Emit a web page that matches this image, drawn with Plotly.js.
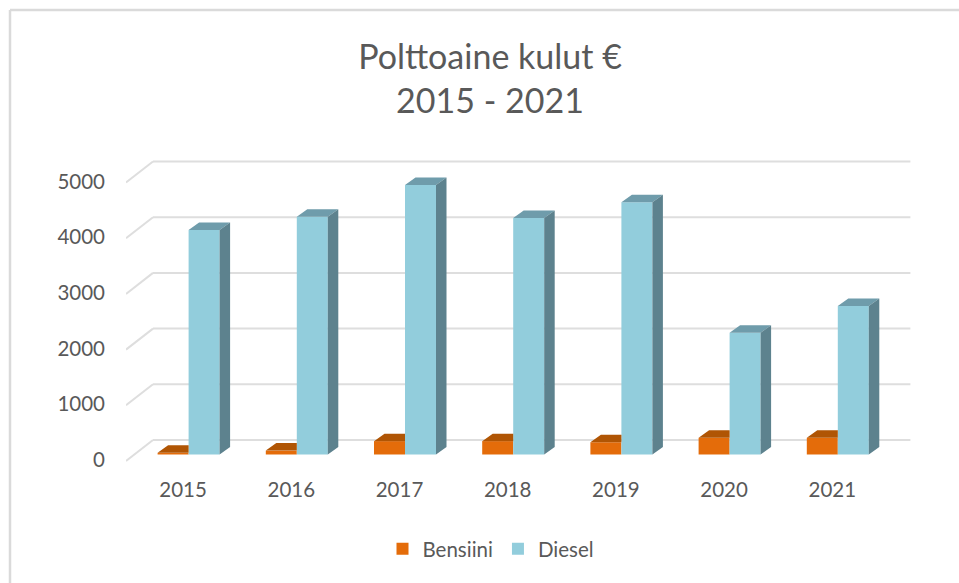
<!DOCTYPE html>
<html>
<head>
<meta charset="utf-8">
<script src="https://cdn.plot.ly/plotly-3.0.1.min.js"></script>
<style>html,body{margin:0;padding:0;background:#fff}#chart{width:959px;height:583px}</style>
</head>
<body>
<div id="chart"></div>
<script>
var years = ['2015','2016','2017','2018','2019','2020','2021'];
var bensiini = [30, 70, 240, 240, 220, 300, 300];
var diesel = [4030, 4270, 4840, 4245, 4530, 2187, 2666];
var yTicks = [0, 1000, 2000, 3000, 4000, 5000];

var W = 959, H = 583;
var pxPerCat = 108.2, pxPerVal = 0.0557;
var L = 126, R = 915, T = 150, B = 470, zeroY = 460;
var xMax = (R - L) / pxPerCat - 0.5;
var yMax = (zeroY - T) / pxPerVal, yMin = (zeroY - B) / pxPerVal;
function dxOf(p) { return p / pxPerCat; }
function dyOf(p) { return p / pxPerVal; }

var idx = years.map(function (_, i) { return i; });
var barW = dxOf(31), barShift = dxOf(8.5);
var depthX = dxOf(10.5), depthY = dyOf(7.5);
var wallX = dxOf(27), wallFront = dyOf(-1), wallBack = dyOf(20);
var base = dyOf(zeroY - 454.5);

function poly(name, xs, ys, color) {
  return {type: 'scatter', mode: 'lines', x: xs, y: ys, fill: 'toself', fillcolor: color,
    line: {width: 0, color: color}, showlegend: false, hoverinfo: 'skip', name: name};
}
var topBx = [], topBy = [], topDx = [], topDy = [], sideDx = [], sideDy = [];
idx.forEach(function (i) {
  var l = i + barShift - barW, m = i + barShift, r = i + barShift + barW;
  var b = bensiini[i] + base, d = diesel[i] + base;
  topBx.push(l, l + depthX, m, m, l, null);
  topBy.push(b, b + depthY, b + depthY, b, b, null);
  topDx.push(m, m + depthX, r + depthX, r, m, null);
  topDy.push(d, d + depthY, d + depthY, d, d, null);
  sideDx.push(r, r + depthX, r + depthX, r, r, null);
  sideDy.push(base, base + depthY, d + depthY, d, base, null);
});

var traces = [
  {type: 'bar', name: 'Bensiini', x: idx, y: bensiini, base: base, width: barW, offset: barShift - barW,
   marker: {color: '#E46C0A', line: {width: 0}}},
  {type: 'bar', name: 'Diesel', x: idx, y: diesel, base: base, width: barW, offset: barShift,
   marker: {color: '#92CDDC', line: {width: 0}}},
  poly('Bensiini top', topBx, topBy, '#B05504'),
  poly('Diesel top', topDx, topDy, '#6F9CAB'),
  poly('Diesel side', sideDx, sideDy, '#5D828E')
];

var gridColor = '#DEDEDE';
var shapes = [];
yTicks.forEach(function (v) {
  shapes.push({type: 'line', layer: 'below', xref: 'x', yref: 'y', x0: -0.5, x1: -0.5 + wallX, y0: v + wallFront, y1: v + wallBack,
    line: {color: gridColor, width: 2}});
  shapes.push({type: 'line', layer: 'below', xref: 'x', yref: 'y', x0: -0.5 + wallX, x1: 6.5 + wallX, y0: v + wallBack, y1: v + wallBack,
    line: {color: gridColor, width: 2}});
});
var plotW = R - L, plotH = B - T;
function px(x) { return (x - L) / plotW; }
function py(y) { return (B - y) / plotH; }
shapes.push({type: 'line', layer: 'below', xref: 'paper', yref: 'paper', x0: px(10), x1: px(959), y0: py(10), y1: py(10),
  line: {color: '#DADADA', width: 2.5}});
shapes.push({type: 'line', layer: 'below', xref: 'paper', yref: 'paper', x0: px(10), x1: px(10), y0: py(10), y1: py(583),
  line: {color: '#DADADA', width: 2.5}});

var font = 'Lato, "Open Sans", sans-serif';
var layout = {
  width: W, height: H,
  margin: {l: L, r: W - R, t: T, b: H - B, pad: 0},
  paper_bgcolor: '#FFFFFF', plot_bgcolor: 'rgba(0,0,0,0)',
  font: {family: font, color: '#595959', size: 20.5},
  title: {text: 'Polttoaine kulut €<br>2015 - 2021', x: 490 / W, xanchor: 'center', y: 1 - 69 / H, yanchor: 'middle',
    font: {family: font, size: 34, color: '#595959'}},
  barmode: 'overlay',
  showlegend: true,
  legend: {orientation: 'h', x: 491 / W, xref: 'container', xanchor: 'center', y: 1 - 549 / H, yref: 'container', yanchor: 'middle',
    font: {family: font, size: 20.5, color: '#595959'}, itemwidth: 30, traceorder: 'normal'},
  xaxis: {type: 'linear', range: [-0.5, xMax], tickmode: 'array', tickvals: idx, ticktext: years, showgrid: false,
    zeroline: false, showline: false, ticks: '', ticklabelstandoff: 5, ticklabelshift: 3, tickfont: {family: font, size: 20.5, color: '#595959'}},
  yaxis: {type: 'linear', range: [yMin, yMax], tickmode: 'array', tickvals: yTicks, ticktext: yTicks.map(String), showgrid: false,
    zeroline: false, showline: false, ticks: '', ticklabelstandoff: 20, tickfont: {family: font, size: 20.5, color: '#595959'}},
  shapes: shapes
};
Plotly.newPlot('chart', traces, layout, {displayModeBar: false, staticPlot: true});
</script>
</body>
</html>
